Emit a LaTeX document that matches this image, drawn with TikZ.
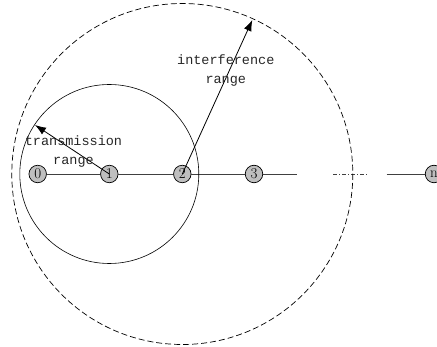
\documentclass[tikz,border=0pt]{standalone}
\usepackage{fontspec}
\newfontfamily\monof{Liberation Mono}
\usetikzlibrary{arrows.meta}
\begin{document}
\begin{tikzpicture}[x=1pt,y=-1pt,
  nd/.style={circle,draw=black,fill=black!25,line width=0.7pt,minimum size=17.5pt,inner sep=0pt,font=\fontsize{15}{15}\selectfont},
  link/.style={draw=black!75,line width=0.7pt},
  rng/.style={-{Latex[length=11pt,width=8pt]},line width=0.8pt},
  lbl/.style={font=\monof\fontsize{13.5}{19}\selectfont,text=black!85,align=center,inner sep=0pt}]
\useasboundingbox (0,0) rectangle (437,347);
\node[nd] (n0) at (37.7,174) {0};
\node[nd] (n1) at (109.3,174) {1};
\node[nd] (n2) at (182.3,174) {2};
\node[nd] (n3) at (254,174) {3};
\node[nd] (nn) at (434,174) {n};
\coordinate (e3) at (297,174);
\coordinate (ds) at (333,174);
\coordinate (de) at (368,174);
\coordinate (ns) at (386.7,174);
\draw[link] (n0) -- (n1);
\draw[link] (n1) -- (n2);
\draw[link] (n2) -- (n3);
\draw[link] (n3) -- (e3);
\draw[link,dash pattern=on 4pt off 2pt on 1pt off 2pt] (ds) -- (de);
\draw[link] (ns) -- (nn);
\draw[line width=0.6pt] (n1.center) circle[radius=89.5];
\draw[line width=0.7pt,dash pattern=on 6pt off 3pt] (n2.center) circle[radius=170.5];
\coordinate (t1) at (35,125);
\coordinate (t2) at (252.3,20);
\draw[rng] (n1.center) -- (t1);
\draw[rng] (n2.center) -- (t2);
\node[lbl] (tl) at (73.5,152) {transmission\\range};
\node[lbl] (il) at (225.8,71) {interference\\range};
\end{tikzpicture}
\end{document}
